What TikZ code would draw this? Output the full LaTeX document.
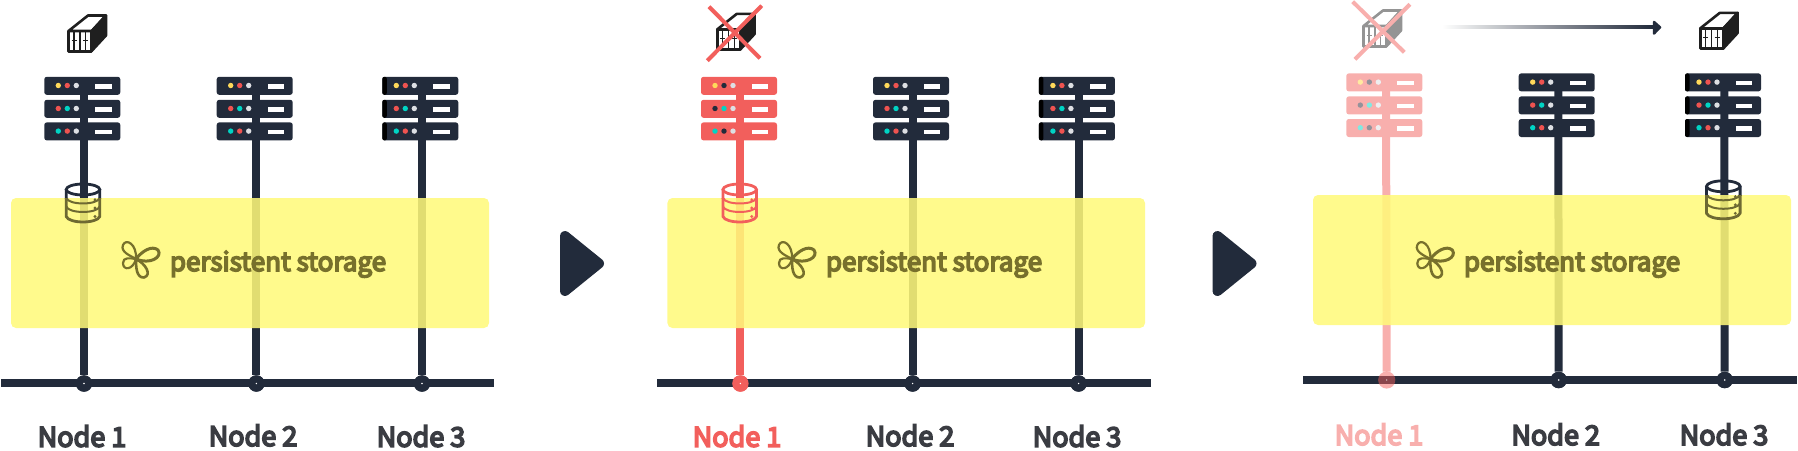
\documentclass[tikz,border=0pt]{standalone}
\usepackage{fontspec}
\newfontfamily\nf[FakeBold=6]{Noto Sans CJK SC}
\definecolor{navy}{HTML}{222B3B}
\definecolor{redn}{HTML}{F25F5C}
\definecolor{pinkn}{HTML}{F8AFAD}
\definecolor{yel}{RGB}{255,249,122}
\definecolor{olive}{HTML}{77702C}
\definecolor{olivedk}{HTML}{6E6932}
\definecolor{dY}{HTML}{FFD95A}
\definecolor{dR}{HTML}{EF5350}
\definecolor{dT}{HTML}{00D4C4}
\definecolor{dG}{HTML}{DDDFE3}
\definecolor{fY}{HTML}{FFE9A0}
\definecolor{fA}{HTML}{93929A}
\definecolor{fT}{HTML}{80E9E1}
\definecolor{fG}{HTML}{EEEEF0}
\definecolor{txt}{HTML}{3A3C42}
\tikzset{
  x=1pt,y=-1pt,
  vline/.style={line width=8pt},
  busline/.style={line width=8pt,navy},
  store/.style={fill=yel,fill opacity=.867,rounded corners=5pt},
  junction/.style={circle,inner sep=0pt,minimum size=16.5pt},
  nlabel/.style={anchor=base,font=\nf\fontsize{27}{30}\selectfont,inner sep=0pt},
  plabel/.style={anchor=base,font=\nf\fontsize{26}{30}\selectfont,inner sep=0pt,text=olive},
  cross/.style={line width=4pt},
}
\newcommand\srvdots[6]{% x y c1 c2 c3 strip
  \fill[#3] ({#1+14},{#2+8.7}) circle (2.7);
  \fill[#4] ({#1+23},{#2+8.7}) circle (2.7);
  \fill[#5] ({#1+32},{#2+8.7}) circle (2.7);
  \fill[white] ({#1+51},{#2+7.2}) rectangle ({#1+67.4},{#2+11.7});
  \ifx#6\relax\else\fill[black,rounded corners=2pt] (#1,#2) rectangle ({#1+4.5},{#2+18});\fi
}
\newcommand\srv[9]{% name x y body Y A T G strip
  \coordinate (#1) at ({#2+39.7},{#3+4});
  \foreach \dy in {0,23,45.6}{\fill[#4,rounded corners=2.5pt] (#2,{#3+\dy}) rectangle ++(76,18);}
  \srvdots{#2}{#3}{#5}{#6}{#8}{#9}
  \srvdots{#2}{#3+23}{#6}{#7}{#8}{#9}
  \srvdots{#2}{#3+45.6}{#7}{#6}{#8}{#9}
}
\newcommand\cylshape[1]{%
  \draw[#1,line width=2.8pt] (0,0) ellipse [x radius=16.8,y radius=5.5];
  \draw[#1,line width=2.8pt,line join=round]
    (-16.8,0) -- (-16.8,27) .. controls (-14,34.3) and (14,34.3) .. (16.8,27) -- (16.8,0);
  \draw[#1,line width=2pt] (-16.8,8.5) .. controls (-14,15.8) and (14,15.8) .. (16.8,8.5);
  \draw[#1,line width=2pt] (-16.8,17) .. controls (-14,24.3) and (14,24.3) .. (16.8,17);
  \fill[#1] (12,10.5) circle (1.6) (12,18.5) circle (1.6) (12,27) circle (1.6);
}
% cx cy clip-y upper lower
\newcommand\cyl[5]{%
  \begin{scope}\clip ({#1-25},{#2-12}) rectangle ({#1+25},#3);
    \begin{scope}[shift={(#1,#2)}]\cylshape{#4}\end{scope}\end{scope}
  \begin{scope}\clip ({#1-25},#3) rectangle ({#1+25},{#2+45});
    \begin{scope}[shift={(#1,#2)}]\cylshape{#5}\end{scope}\end{scope}
}
\newcommand\nas[3]{% dx dy colour
  \begin{scope}[shift={(#1,#2)},#3,line join=round]
    \fill[#3,draw=#3,line width=2.5pt] (91.7,31) -- (106,15.5) -- (106,35.5) -- (91.7,51) -- cycle;
    \draw[line width=2.6pt] (68.5,31) -- (88,15.5) -- (106,15.5) -- (91.7,31) -- cycle;
    \draw[line width=2.6pt] (68.5,31) rectangle (91.7,51.2);
    \draw[line width=1.2pt] (74,31) -- (74,51) (80,31) -- (80,51) (85.5,31) -- (85.5,51);
    \draw[line width=.9pt] (71.5,40) -- (76.5,40) (83,40) -- (88,40);
  \end{scope}
}
\newcommand\flower[1]{%
  \begin{scope}[shift={(#1,0)},olive,line join=round]
    \draw[line width=2.2pt] (136,259) .. controls (131,256) and (120,252) .. (123,245) .. controls (126,238) and (137,244) .. (136,259);
    \draw[line width=3pt] (136,259) .. controls (142,251) and (152,245) .. (158,250) .. controls (163,257) and (150,265) .. (136,259);
    \draw[line width=2.6pt] (136,259) .. controls (136,266) and (136,278) .. (144,277.5) .. controls (152,275) and (146,264) .. (136,259);
    \draw[line width=2.2pt] (136,259) .. controls (130,258) and (123,257) .. (123,263) .. controls (123,271) and (133,270) .. (136,259);
  \end{scope}
}
\newcommand\bigarrow[2]{%
  \fill[navy,draw=navy,line width=10pt,line join=round] (#1,236) -- ({#1+34},#2) -- (#1,291) -- cycle;
}
\begin{document}
\begin{tikzpicture}
\useasboundingbox (0,0) rectangle (1798,450);
% ---- panel 1
\coordinate (a1top) at (84,90); \coordinate (a2top) at (256.4,90); \coordinate (a3top) at (422,90);
\coordinate (aL) at (1,383); \coordinate (aR) at (494,383);
\node[junction,fill=navy] (aj1) at (84,383.5) {};
\node[junction,fill=navy] (aj2) at (256.4,383.5) {};
\node[junction,fill=navy] (aj3) at (422,383.5) {};
\draw[vline,navy] (a1top) -- (aj1); \draw[vline,navy] (a2top) -- (aj2); \draw[vline,navy] (a3top) -- (aj3);
\draw[busline] (aL) -- (aR);
\foreach \n in {aj1,aj2,aj3}{\fill[navy] (\n) circle (8.2); \fill[white] (\n) circle (.8);}
\srv{as1}{44.3}{76.8}{navy}{dY}{dR}{dT}{dG}{\relax}
\srv{as2}{216.7}{76.8}{navy}{dY}{dR}{dT}{dG}{\relax}
\srv{as3}{382.3}{76.8}{navy}{dY}{dR}{dT}{dG}{x}
\nas{0}{0}{black!88}
\fill[store] (11,198) rectangle (489,328);
\cyl{83}{189.5}{198}{navy}{olivedk}
\flower{0}
\node[plabel] (ap) at (278,271) {persistent storage};
\node[nlabel,text=txt] (an1) at (82,446.7) {Node 1};
\node[nlabel,text=txt] (an2) at (253,446) {Node 2};
\node[nlabel,text=txt] (an3) at (421,446.7) {Node 3};
% ---- arrow
\bigarrow{565}{263.5}
% ---- panel 2
\coordinate (b1top) at (740.4,90); \coordinate (b2top) at (912.6,90); \coordinate (b3top) at (1078.6,90);
\coordinate (bL) at (657,383); \coordinate (bR) at (1150.5,383);
\node[junction,fill=redn] (bj1) at (740.4,383.5) {};
\node[junction,fill=navy] (bj2) at (912.6,383.5) {};
\node[junction,fill=navy] (bj3) at (1078.6,383.5) {};
\draw[vline,redn] (b1top) -- (bj1); \draw[vline,navy] (b2top) -- (bj2); \draw[vline,navy] (b3top) -- (bj3);
\draw[busline] (bL) -- (bR);
\fill[redn] (bj1) circle (8.2); \fill[white] (bj1) circle (.8);
\foreach \n in {bj2,bj3}{\fill[navy] (\n) circle (8.2); \fill[white] (\n) circle (.8);}
\srv{bs1}{701}{76.8}{redn}{dY}{navy}{dT}{dG}{\relax}
\srv{bs2}{873}{76.8}{navy}{dY}{dR}{dT}{dG}{\relax}
\srv{bs3}{1038.9}{76.8}{navy}{dY}{dR}{dT}{dG}{x}
\nas{648.7}{-1.6}{black!88}
\draw[cross,redn] (709,6.7) -- (760,58.3);
\draw[cross,redn] (761.7,5.7) -- (707.3,60.7);
\fill[store] (667.4,198) rectangle (1145,328);
\cyl{739.7}{189.5}{198}{redn}{redn}
\flower{656}
\node[plabel] (bp) at (934,271) {persistent storage};
\node[nlabel,text=redn] (bn1) at (737,446.7) {Node 1};
\node[nlabel,text=txt] (bn2) at (910,446) {Node 2};
\node[nlabel,text=txt] (bn3) at (1077,446.7) {Node 3};
% ---- arrow
\bigarrow{1217.5}{263.5}
% ---- panel 3
\coordinate (c1top) at (1386,90); \coordinate (c2top) at (1558.3,90); \coordinate (c3top) at (1724.3,90);
\coordinate (cL) at (1303,379.7); \coordinate (cR) at (1797,379.7);
\node[junction] (cj1) at (1386.7,380) {};
\node[junction,fill=navy] (cj2) at (1558.7,380) {};
\node[junction,fill=navy] (cj3) at (1724.7,380) {};
\draw[vline,pinkn] (c1top) -- (cj1); \draw[vline,navy] (c2top) -- (cj2); \draw[vline,navy] (c3top) -- (cj3);
\draw[busline] (cL) -- (cR);
\fill[redn,opacity=.5] (cj1) circle (8.6); \fill[white] (cj1) circle (.6);
\foreach \n in {cj2,cj3}{\fill[navy] (\n) circle (8.2); \fill[white] (\n) circle (.8);}
\srv{cs1}{1346.3}{73.4}{pinkn}{fY}{fA}{fT}{fG}{\relax}
\srv{cs2}{1518.7}{73.4}{navy}{dY}{dR}{dT}{dG}{\relax}
\srv{cs3}{1685}{73.4}{navy}{dY}{dR}{dT}{dG}{x}
\nas{1295}{-5}{black!42}
\draw[cross,pinkn] (1352.7,1.7) -- (1404.3,52.3);
\draw[cross,pinkn] (1410,4.3) -- (1355,59.3);
\coordinate (mvA) at (1441.7,27); \coordinate (mvB) at (1653,27);
\shade[left color=white,right color=navy] ([yshift=1.8pt]mvA) rectangle ([yshift=-1.8pt]mvB);
\fill[navy,draw=navy,line width=2.5pt,line join=round] (1654,22) -- (1660,27.3) -- (1654,33.5) -- cycle;
\nas{1631.7}{-2.6}{black!88}
\fill[store] (1313,195) rectangle (1791,325);
\cyl{1723.3}{186.3}{195}{navy}{olivedk}
\flower{1294.3}
\node[plabel] (cp) at (1572,271) {persistent storage};
\node[nlabel,text=pinkn] (cn1) at (1379,445) {Node 1};
\node[nlabel,text=txt] (cn2) at (1555.7,445) {Node 2};
\node[nlabel,text=txt] (cn3) at (1724,445) {Node 3};
\end{tikzpicture}
\end{document}
